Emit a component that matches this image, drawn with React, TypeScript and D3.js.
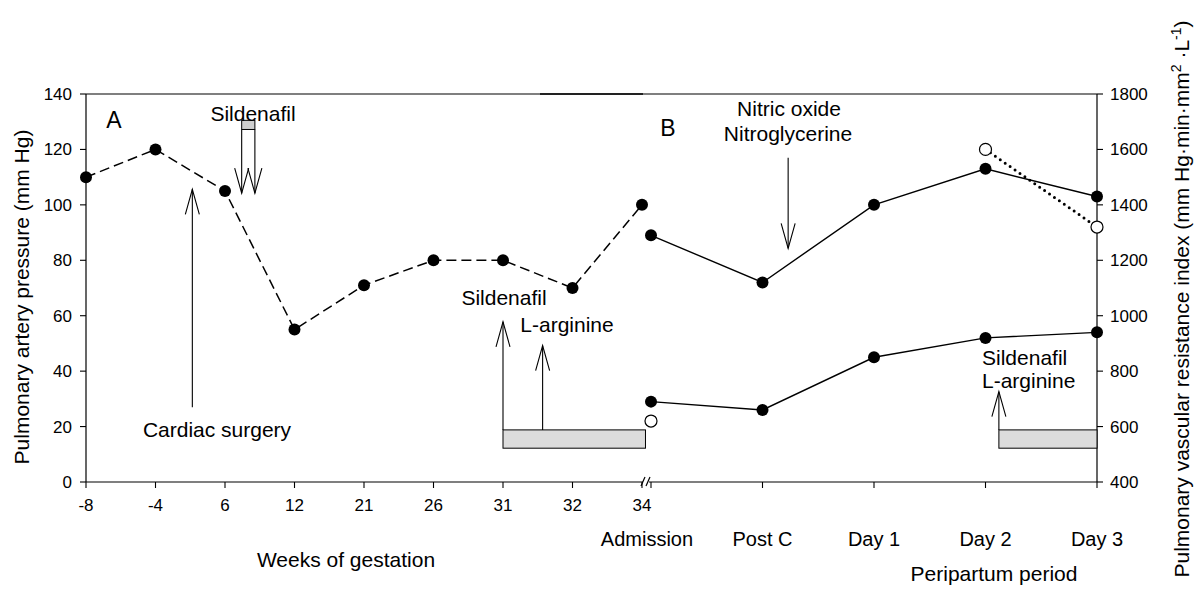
import React from 'react';
import * as d3 from 'd3';

// panel A: weeks of gestation, pulmonary artery pressure (dashed)
const weeks = ['-8', '-4', '6', '12', '21', '26', '31', '32', '34'];
const pressureA = [110, 120, 105, 55, 71, 80, 80, 70, 100];

// panel B: peripartum period
const periods = ['Admission', 'Post C', 'Day 1', 'Day 2', 'Day 3'];
const pressureB = [89, 72, 100, 113, 103];
const pvriB = [690, 660, 850, 920, 940];
const pvriOpen = [
  { period: 'Admission', value: 620 },
  { period: 'Day 2', value: 1600 },
  { period: 'Day 3', value: 1320 },
];
const dottedPeriods = ['Day 2', 'Day 3'];

const leftTicks = [0, 20, 40, 60, 80, 100, 120, 140];
const rightTicks = [400, 600, 800, 1000, 1200, 1400, 1600, 1800];

// treatment periods (fractional category index, pressure units)
const barA = { from: 6, to: 8.05, lo: 12.2, hi: 18.8 };
const barB = { from: 3.12, to: 4, lo: 12.2, hi: 18.8 };
const topSildenafil = { from: 2.24, to: 2.43, top: 130.5, boxBottom: 127.2, tip: 104.2 };
const cardiacArrow = { at: 1.53, tail: 27, tip: 105.6 };
const sildenafilArrow = { at: 6, tail: 18.8, tip: 57.8 };
const arginineArrow = { at: 6.57, tail: 18.8, tip: 49.2 };
const nitricArrow = { at: 1.23, tail: 117, tip: 84.3 };
const lateArrow = { at: 3.12, tail: 18.8, tip: 32.6 };

const W = 1197;
const H = 592;
const left = 86;
const right = 1097;
const top = 94;
const bottom = 482;
const font = '"Liberation Sans", Arial, Helvetica, sans-serif';

const xA = d3.scalePoint<string>().domain(weeks).range([left, 642]);
const xB = d3.scalePoint<string>().domain(periods).range([651, right]);
const xAi = d3.scaleLinear().domain([0, weeks.length - 1]).range([left, 642]);
const xBi = d3.scaleLinear().domain([0, periods.length - 1]).range([651, right]);
const yL = d3.scaleLinear().domain([0, 140]).range([bottom, top]);
const yR = d3.scaleLinear().domain([400, 1800]).range([bottom, top]);

function Arrow({ x, y1, y2 }: { x: number; y1: number; y2: number }) {
  // y1 = tail, y2 = tip, open V head
  const dir = y2 < y1 ? 1 : -1;
  const len = 25;
  const half = 7;
  return (
    <g stroke="#000" strokeWidth={1.1} fill="none">
      <line x1={x} x2={x} y1={y1} y2={y2} />
      <polyline points={`${x - half},${y2 + dir * len} ${x},${y2} ${x + half},${y2 + dir * len}`} />
    </g>
  );
}

export default function App() {
  const lineA = d3
    .line<number>()
    .x((_, i) => xA(weeks[i]) as number)
    .y(d => yL(d));
  const lineBP = d3
    .line<number>()
    .x((_, i) => xB(periods[i]) as number)
    .y(d => yL(d));
  const lineBR = d3
    .line<number>()
    .x((_, i) => xB(periods[i]) as number)
    .y(d => yR(d));
  const dotted = pvriOpen.filter(d => dottedPeriods.includes(d.period));
  const lineDot = d3
    .line<{ period: string; value: number }>()
    .x(d => xB(d.period) as number)
    .y(d => yR(d.value));

  const tsL = topSildenafil;

  return (
    <svg
      width={W}
      height={H}
      style={{ position: 'absolute', left: 0, top: 0, background: '#fff' }}
      fontFamily={font}
    >
      <rect width={W} height={H} fill="#fff" />

      {/* frame */}
      <g stroke="#000" strokeWidth={1.2} fill="none">
        <line x1={left} x2={right} y1={top} y2={top} />
        <line x1={540} x2={643} y1={top} y2={top} strokeWidth={2.2} stroke="#222" />
        <line x1={left} x2={left} y1={top} y2={bottom} />
        <line x1={right} x2={right} y1={top} y2={bottom} />
        <line x1={left} x2={643} y1={bottom} y2={bottom} />
        <line x1={649} x2={right} y1={bottom} y2={bottom} />
        <line x1={641} x2={645} y1={486} y2={477} />
        <line x1={646} x2={650} y1={486} y2={477} />
      </g>

      {/* left axis */}
      {leftTicks.map(t => (
        <g key={'l' + t}>
          <line x1={left - 6} x2={left} y1={yL(t)} y2={yL(t)} stroke="#000" strokeWidth={1.1} />
          <text x={72} y={yL(t) + 6} textAnchor="end" fontSize={17}>
            {t}
          </text>
        </g>
      ))}

      {/* right axis */}
      {rightTicks.map(t => (
        <g key={'r' + t}>
          <line x1={right} x2={right + 6} y1={yR(t)} y2={yR(t)} stroke="#000" strokeWidth={1.1} />
          <text x={1110} y={yR(t) + 6} textAnchor="start" fontSize={17}>
            {t}
          </text>
        </g>
      ))}

      {/* bottom axis A */}
      {weeks.map(w => (
        <g key={'w' + w}>
          <line x1={xA(w)} x2={xA(w)} y1={bottom} y2={bottom + 6} stroke="#000" strokeWidth={1.1} />
          <text x={xA(w)} y={511} textAnchor="middle" fontSize={17}>
            {w}
          </text>
        </g>
      ))}

      {/* bottom axis B */}
      {periods.map(p => (
        <g key={'p' + p}>
          <line x1={xB(p)} x2={xB(p)} y1={bottom} y2={bottom + 6} stroke="#000" strokeWidth={1.1} />
          <text x={(xB(p) as number) - (p === 'Admission' ? 4 : 0)} y={546} textAnchor="middle" fontSize={20}>
            {p}
          </text>
        </g>
      ))}

      {/* axis titles */}
      <text x={346} y={567} textAnchor="middle" fontSize={21}>
        Weeks of gestation
      </text>
      <text x={994} y={581} textAnchor="middle" fontSize={21}>
        Peripartum period
      </text>
      <text transform="translate(29,297) rotate(-90)" textAnchor="middle" fontSize={21}>
        Pulmonary artery pressure (mm Hg)
      </text>
      <text transform="translate(1189,299) rotate(-90)" textAnchor="middle" fontSize={21}>
        Pulmonary vascular resistance index (mm Hg·min·mm
        <tspan dy={-8} fontSize={14}>2</tspan>
        <tspan dy={8}> ·L</tspan>
        <tspan dy={-8} fontSize={14}>-1</tspan>
        <tspan dy={8}>)</tspan>
      </text>

      {/* panel letters */}
      <text x={114} y={128} textAnchor="middle" fontSize={23}>A</text>
      <text x={668} y={136} textAnchor="middle" fontSize={23}>B</text>

      {/* treatment bars */}
      <rect
        x={xAi(barA.from)}
        width={xAi(barA.to) - xAi(barA.from)}
        y={yL(barA.hi)}
        height={yL(barA.lo) - yL(barA.hi)}
        fill="#dcdcdc"
        stroke="#000"
        strokeWidth={1}
      />
      <rect
        x={xBi(barB.from)}
        width={xBi(barB.to) - xBi(barB.from)}
        y={yL(barB.hi)}
        height={yL(barB.lo) - yL(barB.hi)}
        fill="#dcdcdc"
        stroke="#000"
        strokeWidth={1}
      />

      {/* early sildenafil */}
      <rect
        x={xAi(tsL.from)}
        width={xAi(tsL.to) - xAi(tsL.from)}
        y={yL(tsL.top)}
        height={yL(tsL.boxBottom) - yL(tsL.top)}
        fill="#cfcfcf"
        stroke="#000"
        strokeWidth={1}
      />
      <Arrow x={xAi(tsL.from)} y1={yL(tsL.boxBottom)} y2={yL(tsL.tip)} />
      <Arrow x={xAi(tsL.to)} y1={yL(tsL.boxBottom)} y2={yL(tsL.tip)} />
      <text x={253} y={121} textAnchor="middle" fontSize={21}>Sildenafil</text>

      {/* annotations */}
      <Arrow x={xAi(cardiacArrow.at)} y1={yL(cardiacArrow.tail)} y2={yL(cardiacArrow.tip)} />
      <text x={217} y={437} textAnchor="middle" fontSize={21}>Cardiac surgery</text>

      <Arrow x={xAi(sildenafilArrow.at)} y1={yL(sildenafilArrow.tail)} y2={yL(sildenafilArrow.tip)} />
      <Arrow x={xAi(arginineArrow.at)} y1={yL(arginineArrow.tail)} y2={yL(arginineArrow.tip)} />
      <text x={504} y={305} textAnchor="middle" fontSize={21}>Sildenafil</text>
      <text x={567} y={332} textAnchor="middle" fontSize={21}>L-arginine</text>

      <Arrow x={xBi(nitricArrow.at)} y1={yL(nitricArrow.tail)} y2={yL(nitricArrow.tip)} />
      <text x={789} y={116} textAnchor="middle" fontSize={21}>Nitric oxide</text>
      <text x={788} y={141} textAnchor="middle" fontSize={21}>Nitroglycerine</text>

      <Arrow x={xBi(lateArrow.at)} y1={yL(lateArrow.tail)} y2={yL(lateArrow.tip)} />
      <text x={982} y={365} textAnchor="start" fontSize={21}>Sildenafil</text>
      <text x={982} y={388} textAnchor="start" fontSize={21}>L-arginine</text>

      {/* series */}
      <path d={lineA(pressureA) || ''} fill="none" stroke="#000" strokeWidth={1.5} strokeDasharray="10,5" />
      <path d={lineBP(pressureB) || ''} fill="none" stroke="#000" strokeWidth={1.4} />
      <path d={lineBR(pvriB) || ''} fill="none" stroke="#000" strokeWidth={1.4} />
      <path
        d={lineDot(dotted) || ''}
        fill="none"
        stroke="#000"
        strokeWidth={3}
        strokeLinecap="round"
        strokeDasharray="0,6"
      />

      {pressureA.map((v, i) => (
        <circle key={'a' + i} cx={xA(weeks[i])} cy={yL(v)} r={6} fill="#000" />
      ))}
      {pressureB.map((v, i) => (
        <circle key={'bp' + i} cx={xB(periods[i])} cy={yL(v)} r={6} fill="#000" />
      ))}
      {pvriB.map((v, i) => (
        <circle key={'br' + i} cx={xB(periods[i])} cy={yR(v)} r={6} fill="#000" />
      ))}
      {pvriOpen.map(d => (
        <circle key={'o' + d.period} cx={xB(d.period)} cy={yR(d.value)} r={6} fill="#fff" stroke="#000" strokeWidth={1.2} />
      ))}
    </svg>
  );
}
